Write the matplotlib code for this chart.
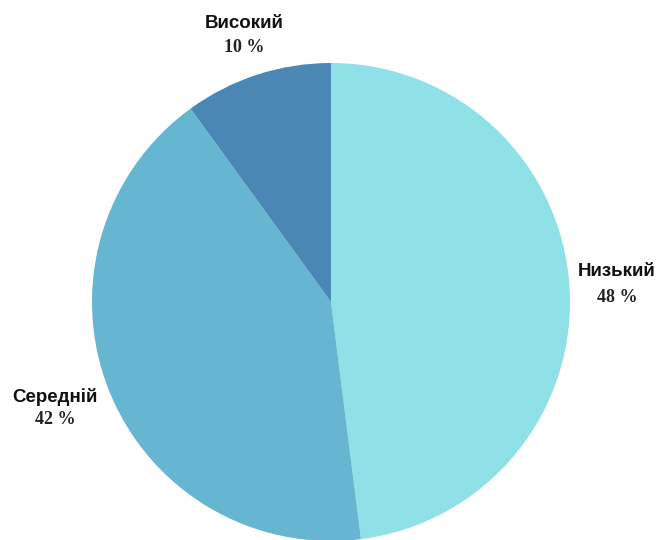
import matplotlib.pyplot as plt

# Chart data
categories = ["Низький", "Середній", "Високий"]
shares = [48, 42, 10]
colors = ["#8FE0E7", "#66B6D1", "#4A87B4"]

W, H = 659, 540
fig = plt.figure(figsize=(W / 100, H / 100), dpi=100)
ax = fig.add_axes([0, 0, 1, 1])

# Pie centre and radius in pixels
cx, cy, r = 331, H - 302, 239
ax.pie(shares, colors=colors, startangle=90, counterclock=False,
       center=(cx, cy), radius=r, frame=True,
       wedgeprops={"linewidth": 0})
ax.set_xlim(0, W)
ax.set_ylim(0, H)
ax.set_aspect("equal")
ax.axis("off")

# Label anchors (pixel coords from top-left): name centre, percent centre
label_pos = [(617, 272, 297), (55, 397, 419), (244, 24, 48)]
for name, val, (px, py, py2) in zip(categories, shares, label_pos):
    ax.text(px, H - py, name, ha="center", va="center",
            fontsize=13.5, fontweight="bold", family="Liberation Sans",
            color="#111111")
    ax.text(px, H - py2, f"{val} %", ha="center", va="center",
            fontsize=13, fontweight="bold", family="Liberation Serif",
            color="#222222")

fig.savefig("out.png", dpi=100)
